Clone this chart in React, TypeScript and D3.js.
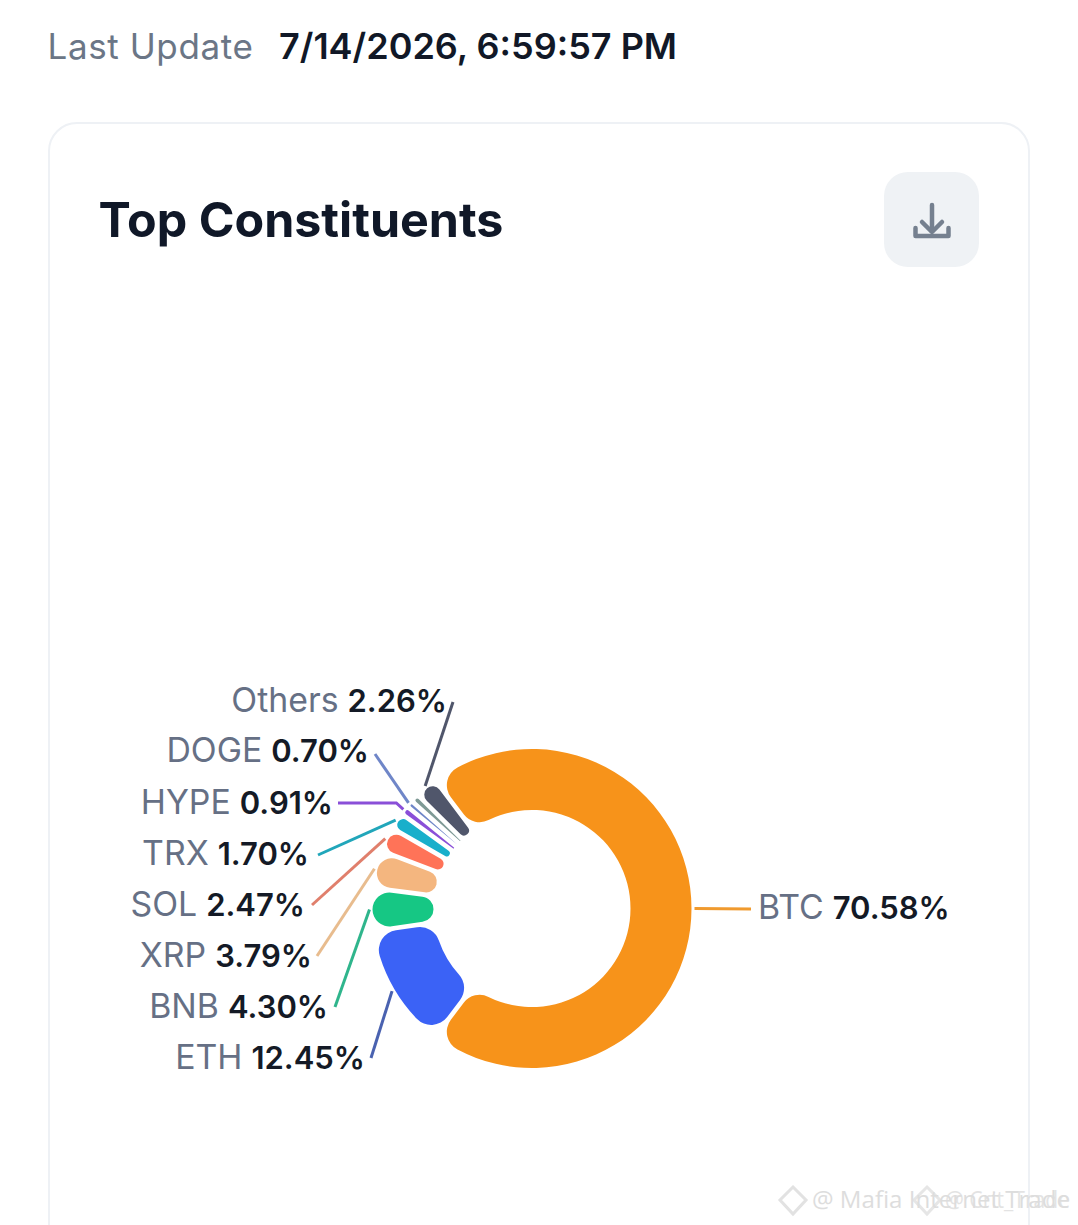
import React from "react";
import * as d3 from "d3";

// constituents, clockwise from BTC ("" = small slice with no label in the chart)
const names = ["BTC", "ETH", "BNB", "XRP", "SOL", "TRX", "HYPE", "DOGE", "", "Others"];
const weights = [70.58, 12.45, 4.3, 3.79, 2.47, 1.7, 0.91, 0.7, 0.84, 2.26];
const colors = ["#F7931A", "#3B62F6", "#16C784", "#F4B67F", "#FF7358", "#19AFCB", "#8A4FD8", "#6F86C8", "#7F9A96", "#50566B"];
const lineColors = ["#F09A2E", "#4A62B0", "#2FB58C", "#E8BC8E", "#E07F6C", "#21A6BA", "#8A4FD8", "#6F86C8", "#7F9A96", "#50566B"];

// label placement, hand tuned like the original layout
const labelX = [758, 365, 328, 312, 305, 309, 333, 369, 0, 447];
const labelY = [919, 1069, 1018, 967, 916, 865, 814, 762, 0, 712];
const lineEndX = [751, 371, 335, 317, 312, 318, 338, 375, 0, 453];
const lineEndY = [909, 1058, 1007, 956, 905, 855, 803, 754, 0, 702];

const cx = 532;
const cy = 908.5;
const outer = 159.5;
const inner = 98.5;
const font = "Inter, 'Noto Sans', sans-serif";

const App: React.FC = () => {
  const rad = Math.PI / 180;
  const start = -37.04 * rad;
  const pie = d3
    .pie<number>()
    .sort(null)
    .value((d) => d)
    .startAngle(start)
    .endAngle(start + Math.PI * 2);
  const slices = pie(weights);

  const arc = d3
    .arc<d3.PieArcDatum<number>>()
    .innerRadius(inner)
    .outerRadius(outer)
    .padAngle(0.0245)
    .cornerRadius(20);

  const line = d3.line();

  const leader = (i: number) => {
    const s = slices[i];
    const a = (s.startAngle + s.endAngle) / 2;
    const r = outer + 3;
    const x0 = cx + r * Math.sin(a);
    const y0 = cy - r * Math.cos(a);
    const pts: [number, number][] = [[x0, y0]];
    // HYPE has an elbow, the others run straight
    if (names[i] === "HYPE") pts.push([x0 - 7, lineEndY[i]]);
    pts.push([lineEndX[i], lineEndY[i]]);
    return line(pts) as string;
  };

  return (
    <svg
      width={1078}
      height={1225}
      style={{ position: "absolute", left: 0, top: 0, display: "block", background: "#fff" }}
      fontFamily={font}
    >
      <text x={47.5} y={59} fontSize={35} fill="#6B7686" letterSpacing={0.6}>
        Last Update
      </text>
      <text x={279} y={59} fontSize={36} fontWeight={600} fill="#111827">
        7/14/2026, 6:59:57 PM
      </text>

      {/* card */}
      <rect x={49} y={123} width={980} height={1160} rx={28} fill="#fff" stroke="#EEF1F5" strokeWidth={2} />
      <text x={98.5} y={236.5} fontSize={48.4} fontWeight={700} fill="#101828">
        Top Constituents
      </text>

      {/* download button */}
      <rect x={884} y={172} width={95} height={95} rx={24} fill="#EFF2F5" />
      <g fill="none" stroke="#75808F" strokeWidth={4.5} strokeLinecap="round" strokeLinejoin="round">
        <path d="M932 205V231" />
        <path d="M922 222L932 232L942 222" />
        <path d="M915.500 228V236H948.500V228" />
      </g>

      {/* donut */}
      <g transform={`translate(${cx},${cy})`}>
        {slices.map((s, i) => (
          <path key={i} d={arc(s) as string} fill={colors[i]} />
        ))}
      </g>

      {/* leader lines and labels */}
      {names.map((n, i) =>
        n === "" ? null : (
          <g key={n}>
            <path d={leader(i)} fill="none" stroke={lineColors[i]} strokeWidth={3} />
            <text x={labelX[i]} y={labelY[i]} fontSize={33.8} textAnchor={n === "BTC" ? "start" : "end"} fill="#667085">
              {n}
              <tspan dx={9} fontSize={31} fontWeight={600} fill="#141A26">
                {weights[i].toFixed(2)}%
              </tspan>
            </text>
          </g>
        )
      )}

      {/* watermarks, two on top of each other */}
      <g fill="#D8D8D8" fontSize={23} fontFamily="'Open Sans', sans-serif" opacity={0.85}>
        <path d="M793 1187L806 1200L793 1214L780 1200Z" fill="none" stroke="#DDD" strokeWidth={3} />
        <path d="M927 1187L940 1200L927 1214L914 1200Z" fill="none" stroke="#E2E2E2" strokeWidth={3} />
        <text x={812} y={1208} textLength={258} lengthAdjust="spacingAndGlyphs">@ Mafia Internet Trade</text>
        <text x={945} y={1208} opacity={0.8} textLength={125} lengthAdjust="spacingAndGlyphs">@ Crit_Trade</text>
      </g>
    </svg>
  );
};

export default App;
